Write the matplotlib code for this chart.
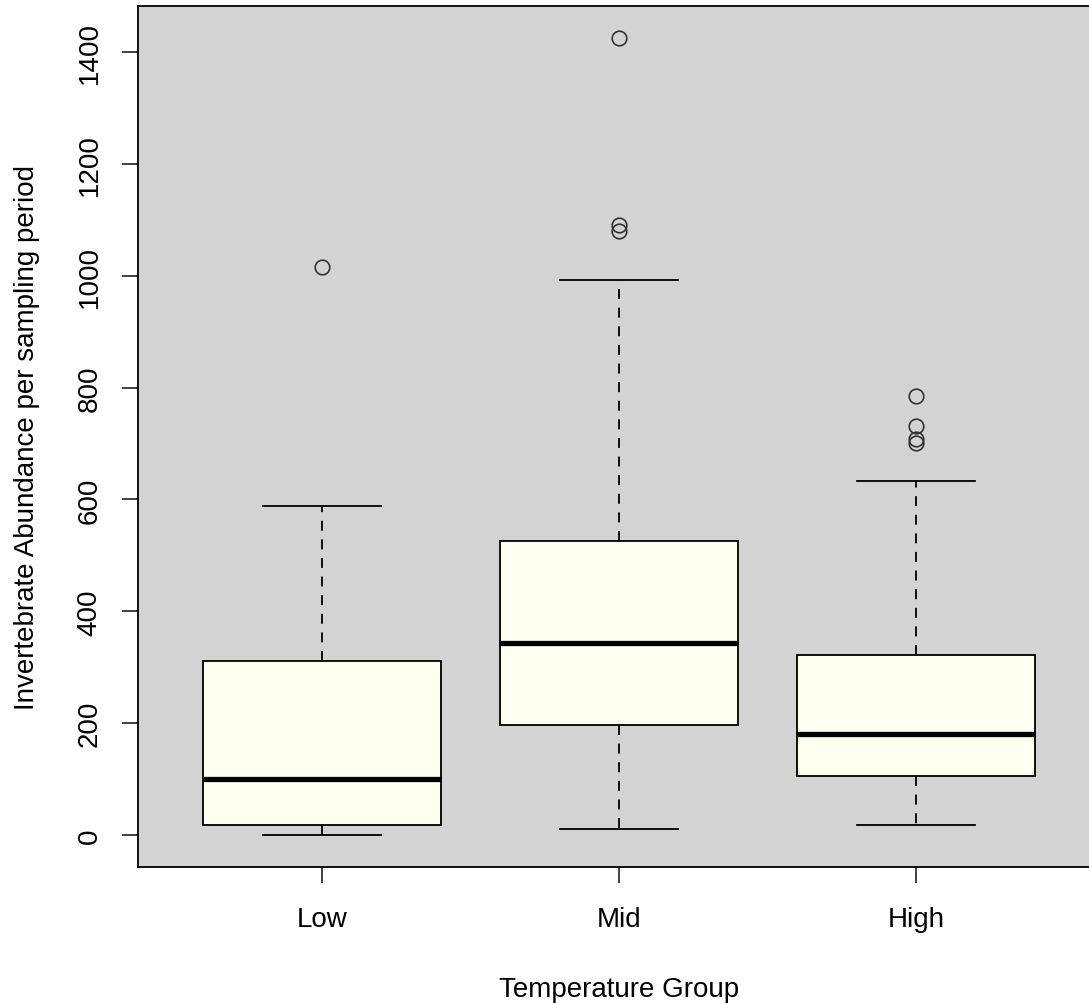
import matplotlib
matplotlib.use("Agg")
import matplotlib.pyplot as plt

plt.rcParams['font.family'] = ['Liberation Sans', 'DejaVu Sans']
plt.rcParams['lines.scale_dashes'] = False

groups = ["Low", "Mid", "High"]
whisker_low = [0, 11, 18]
q1 = [18, 197, 105]
median = [100, 343, 181]
q3 = [311, 526, 322]
whisker_high = [588, 992, 633]
outliers = [[1016], [1080, 1091, 1425], [701, 708, 731, 785]]

stats = []
for i, g in enumerate(groups):
    stats.append(dict(label=g, whislo=whisker_low[i], q1=q1[i], med=median[i],
                      q3=q3[i], whishi=whisker_high[i], fliers=outliers[i]))

fig = plt.figure(figsize=(10.89, 10.04), dpi=100)
ax = fig.add_axes([138/1089, 1-868/1004, 962/1089, 861/1004])
ax.set_facecolor('#d3d3d3')

ax.bxp(stats, positions=[1, 2, 3], widths=0.8, patch_artist=True,
       boxprops=dict(facecolor='#fffff0', edgecolor='black', linewidth=1.3),
       medianprops=dict(color='black', linewidth=3.8, solid_capstyle='butt'),
       whiskerprops=dict(color='black', linewidth=1.3, linestyle=(0, (7.2, 6.2))),
       capprops=dict(color='black', linewidth=1.3),
       flierprops=dict(marker='o', markerfacecolor='none', markeredgecolor='#333333',
                       markersize=10.5, markeredgewidth=1.2),
       capwidths=0.4, manage_ticks=False)

ax.set_xlim(0.38, 3.62)
ax.set_ylim(-57, 1482)
ax.set_xticks([1, 2, 3])
ax.set_xticklabels(groups)
ax.set_yticks(range(0, 1401, 200))
ax.set_yticklabels([str(v) for v in range(0, 1401, 200)], rotation=90, va='center')

ax.tick_params(axis='both', direction='out', length=11.5, width=1.3, labelsize=20, color='#333333')
ax.tick_params(axis='x', pad=16.5)
ax.tick_params(axis='y', pad=14)
for s in ax.spines.values():
    s.set_linewidth(1.3)
    s.set_color('black')

ax.set_xlabel("Temperature Group", fontsize=20, labelpad=32)
ax.set_ylabel("Invertebrate Abundance per sampling period", fontsize=20, labelpad=26)

fig.savefig("out.png", dpi=100)
